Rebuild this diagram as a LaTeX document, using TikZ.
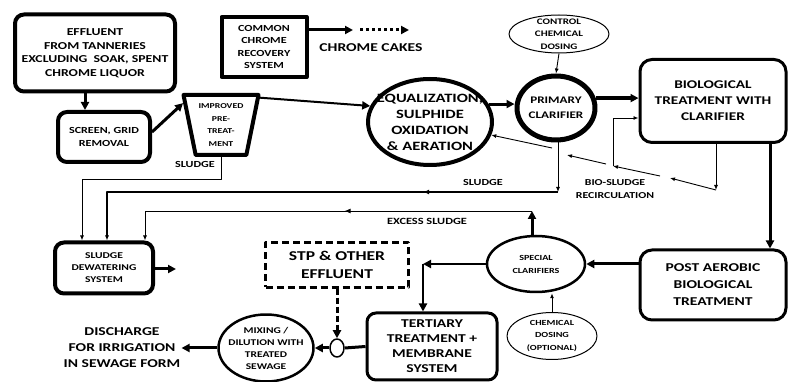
\documentclass[tikz,border=0pt]{standalone}
\usepackage{fontspec}
\setmainfont{Carlito}[FakeStretch=1.3]
\usetikzlibrary{arrows.meta,shapes.geometric,decorations.markings}

\tikzset{
  fs/.style 2 args={font=\fontsize{#1}{#2}\selectfont\bfseries},
  box/.style={draw, rounded corners=9pt, align=center, inner sep=0pt},
  sqbox/.style={draw, align=center, inner sep=0pt},
  oval/.style={draw, ellipse, align=center, inner sep=-20pt},
  fat/.style={-{Triangle[length=8pt,width=8pt]}},
  tip/.style={-{Latex[length=5pt,width=4pt]}, line width=0.9},
  midarrow/.style={postaction={decorate},
    decoration={markings, mark=at position #1 with {\arrow{Latex[length=6pt,width=5pt]}}}}
}

\begin{document}
\begin{tikzpicture}[x=1pt,y=-1pt,line join=round]
  \useasboundingbox (0,0) rectangle (788,382);

  % top row
  \node[box, line width=4, minimum width=160, minimum height=77, fs={10.6}{13.5}] (eff) at (95,53)
    {EFFLUENT\\FROM TANNERIES\\EXCLUDING\ \ SOAK, SPENT\\CHROME LIQUOR};
  \node[box, line width=4, minimum width=92, minimum height=50, fs={9.3}{13}] (scr) at (104,137)
    {SCREEN, GRID\\REMOVAL};
  \node[draw, trapezium, trapezium angle=74, shape border rotate=180, trapezium stretches body,
    minimum width=75, minimum height=60, line width=4, align=center, inner sep=0pt,
    fs={7.5}{12.5}] (pre) at (221,125) {IMPROVED\\PRE-\\TREAT-\\MENT};
  \node[sqbox, line width=4, minimum width=85, minimum height=60, fs={9.3}{12.5}] (ccr) at (264,47)
    {COMMON\\CHROME\\RECOVERY\\SYSTEM};
  \node[fs={12}{14}] (cakes) at (371,48) {CHROME CAKES};

  \node[oval, line width=4, minimum width=124, minimum height=86, fs={12.7}{16}] (eq) at (430,122)
    {EQUALIZATION,\\SULPHIDE\\OXIDATION\\\& AERATION};
  \node[oval, line width=5, minimum width=78, minimum height=64, fs={10.1}{15}] (pc) at (556,108)
    {PRIMARY\\CLARIFIER};
  \node[oval, line width=1, minimum width=100, minimum height=38, fs={8.5}{12.5}] (ccd) at (559,34)
    {CONTROL\\CHEMICAL\\DOSING};
  \node[box, rounded corners=12pt, line width=3, minimum width=146, minimum height=83, fs={11.8}{16}] (bio) at (713,101)
    {BIOLOGICAL\\TREATMENT WITH\\CLARIFIER};

  % bottom row
  \node[box, line width=4, minimum width=98, minimum height=51, fs={8.9}{12}] (sdw) at (104,268)
    {SLUDGE\\DEWATERING\\SYSTEM};
  \node[sqbox, dashed, dash pattern=on 7pt off 4pt, line width=2.5, minimum width=143, minimum height=45,
    fs={13.5}{18}] (stp) at (337,265) {STP \& OTHER\\EFFLUENT};
  \node[draw, ellipse, line width=1.5, minimum width=14, minimum height=18, inner sep=0pt] (jn) at (337,348) {};
  \node[oval, line width=2.5, minimum width=95, minimum height=67, fs={8.8}{12}] (mix) at (266,348)
    {MIXING /\\DILUTION WITH\\TREATED\\SEWAGE};
  \node[align=center, inner sep=1pt, fs={12}{16}] (dis) at (122,348)
    {DISCHARGE\\FOR IRRIGATION\\IN SEWAGE FORM};
  \node[box, line width=3, minimum width=130, minimum height=67, fs={12}{15}] (tert) at (432,346.5)
    {TERTIARY\\TREATMENT +\\MEMBRANE\\SYSTEM};
  \node[oval, line width=2.5, minimum width=98, minimum height=56, fs={7.8}{13}] (sc) at (536,264)
    {SPECIAL\\CLARIFIERS};
  \node[oval, line width=1, minimum width=90, minimum height=47, fs={7.8}{12.5}] (cdo) at (552,336)
    {CHEMICAL\\DOSING\\(OPTIONAL)};
  \node[box, rounded corners=12pt, line width=3, minimum width=146, minimum height=70, fs={12}{17}] (post) at (713,285)
    {POST AEROBIC\\BIOLOGICAL\\TREATMENT};

  % labels
  \node[fs={9.3}{12}] (lsl1) at (195,164) {SLUDGE};
  \node[fs={9.3}{12}] (lsl2) at (483,182) {SLUDGE};
  \node[fs={9.5}{12}] (lex) at (427,221) {EXCESS SLUDGE};
  \node[align=center, fs={9.1}{12.5}] (lbio) at (615,189) {BIO-SLUDGE\\RECIRCULATION};

  \coordinate (ck1) at (353,30);
  \coordinate (ck2) at (360,30);
  \coordinate (ck3) at (409,30);
  \coordinate (bs) at (716,190);
  \coordinate (r1) at (670,178);
  \coordinate (r2) at (660,176);
  \coordinate (r3) at (613,166);
  \coordinate (r4) at (606,164);
  \coordinate (r5) at (567,155);
  \coordinate (r6) at (552,148);
  \coordinate (sl) at (558,192);
  \coordinate (ex) at (532,211);
  \coordinate (sdo) at (176,269);
  \coordinate (tc) at (423,264);

  % main flow
  \draw[fat, line width=3] ([xshift=-10pt]eff.south) -- ([xshift=-19pt]scr.north);
  \draw[fat, line width=3] ([yshift=5pt]scr.east) -- (pre.150);
  \draw[fat, line width=2] (pre.35) -- (eq.165);
  \draw[fat, line width=3] (eq.17) -- (eq.17 -| pc.west);
  \draw[fat, line width=4] (pc.14) -- (pc.14 -| bio.west);
  \draw[tip] (ccd.south) -- (pc.north);
  \draw[fat, line width=3] ([xshift=57pt]bio.south) -- ([xshift=57pt]post.north);
  \draw[fat, line width=3] ([yshift=21pt]post.west) -- (sc.east);
  \draw[fat, line width=2.5] (sc.west) -- (tc);
  \draw[fat, line width=2.5] (tc) -- (tc |- tert.north);
  \draw[tip] (cdo.north) -- (cdo.north |- sc.south);
  \draw[line width=3] (tert.west) -- (jn.east);
  \draw[fat, line width=3] (jn.west) -- (mix.east);
  \draw[fat, line width=3] (mix.west) -- (dis.east);
  \draw[fat, line width=3, dash pattern=on 6pt off 3pt] (stp.south) -- (jn.north);

  % chrome
  \draw[fat, line width=3] (ccr.east |- ck1) -- (ck1);
  \draw[fat, line width=3, dash pattern=on 3pt off 3pt] (ck2) -- (ck3);

  % recirculation
  \draw[tip] (bio.south -| bs) -- (bs);
  \draw[tip] (bs) -- (r1);
  \draw[tip] (r2) -- (r3);
  \draw[tip] (r3) |- ([yshift=-17pt]bio.west);
  \draw[tip] (r4) -- (r5);
  \draw[tip] (r6) -- (eq.-12);

  % sludge
  \draw[tip] (sl |- pc.south) -- (sl);
  \draw[tip, line width=1.6, midarrow=0.27] (sl) -| ([xshift=3pt]sdw.north);
  \draw[tip] (pre.south) -- ++(0,22) -| ([xshift=-22pt]sdw.north);
  \draw[fat, line width=3] ([xshift=-4pt]sc.north) -- (ex);
  \draw[tip, midarrow=0.45] (ex) -| ([xshift=41pt]sdw.north);
  \draw[fat, line width=3] (sdw.east |- sdo) -- (sdo);
\end{tikzpicture}
\end{document}
